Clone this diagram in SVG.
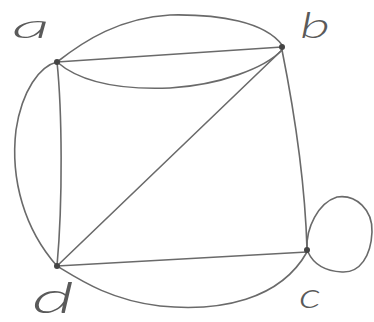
<svg xmlns="http://www.w3.org/2000/svg" width="374" height="322" viewBox="0 0 374 322">
<style>
.e{fill:none;stroke:#6a6a6a;stroke-width:1.6;stroke-linecap:round;stroke-linejoin:round}
.n{fill:#444}
.l{font-family:"Lato","DejaVu Sans",sans-serif;font-weight:300;font-style:italic;fill:#5a5a5a}
</style>
<rect width="374" height="322" fill="#fff"/>
<g id="connectors">
<path class="e" d="M57,62 C85,40 120,18 170,15 C220,14 265,22 282,45"/>
<path class="e" d="M57,62 L282,47"/>
<path class="e" d="M57,62 C80,82 120,90 170,88 C220,85 265,68 282,50"/>
<path class="e" d="M57,62 C62,110 63,200 57,266"/>
<path class="e" d="M57,62 C40,66 22,90 16,130 C10,180 25,230 57,266"/>
<path class="e" d="M282,50 L57,266"/>
<path class="e" d="M282,50 C292,100 305,180 307,249"/>
<path class="e" d="M57,266 L307,252"/>
<path class="e" d="M57,266 C80,280 110,300 160,306 C220,312 280,300 307,252"/>
<path class="e" d="M307,249 C306,228 318,203 337,197 C356,194 373,210 372,232 C371,256 360,273 342,272 C324,271 313,263 308,252"/>
</g>
<g id="node-a"><circle class="n" cx="57" cy="62" r="3"/><text class="l" x="12" y="38" font-size="34" textLength="38" lengthAdjust="spacingAndGlyphs">a</text></g>
<g id="node-b"><circle class="n" cx="282" cy="47" r="3"/><text class="l" x="300" y="38" font-size="36" textLength="30" lengthAdjust="spacingAndGlyphs">b</text></g>
<g id="node-c"><circle class="n" cx="307" cy="250" r="3"/><text class="l" x="299" y="308" font-size="36" textLength="22" lengthAdjust="spacingAndGlyphs">c</text></g>
<g id="node-d"><circle class="n" cx="57" cy="266" r="3"/><text class="l" x="32" y="313" font-size="44" textLength="42" lengthAdjust="spacingAndGlyphs">d</text></g>
</svg>
